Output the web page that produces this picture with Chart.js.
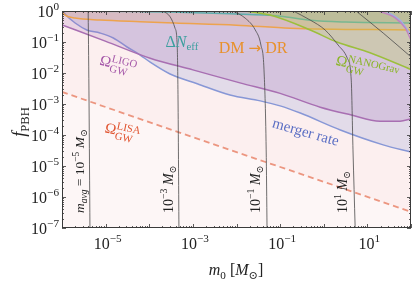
<!DOCTYPE html>
<html><head><meta charset="utf-8">
<script src="https://cdn.jsdelivr.net/npm/chart.js@4.4.1/dist/chart.umd.min.js"></script>
<style>html,body{margin:0;padding:0;background:#fff}</style>
</head><body>
<canvas id="c" width="415" height="283"></canvas>
<script>
// ---- data (mass m0 in Msun, f_PBH) ----
const massLIGO = [1e-6, 9.8e-6, 1.05e-4, 1e-3, 1.2e-2, 0.1, 0.83, 4.1, 19.5, 56, 100];
const fLIGO    = [0.355, 0.107, 0.030, 0.0126, 4.8e-3, 2.2e-3, 7.9e-4, 4.5e-4, 2.8e-4, 2.8e-4, 3.3e-4];
const massLIGOup = [17.8, 44, 74, 100];
const fLIGOup    = [1.0, 0.59, 0.28, 0.115];
const massMerger = [1.05e-6, 1.23e-6, 2.0e-6, 3.7e-6, 7.4e-6, 1.5e-5, 3.1e-5, 6.2e-5, 1.05e-4, 3.0e-4, 1.26e-3, 7.1e-3, 3.5e-2, 0.1, 0.29, 2.4, 23, 100];
const fMerger    = [1.0, 0.74, 0.41, 0.245, 0.195, 0.135, 0.069, 0.038, 0.0224, 9.3e-3, 4.5e-3, 1.95e-3, 1.26e-3, 8.7e-4, 5.1e-4, 1.45e-4, 4.8e-5, 2.8e-5];
const massMergerUp = [26, 56, 100];
const fMergerUp    = [1.0, 0.51, 0.17];
const massDMDR = [1e-6, 1.17e-6, 2e-6, 7.4e-6, 6.2e-5, 3.9e-4, 1.0e-2, 0.17, 100];
const fDMDR    = [0.95, 0.74, 0.59, 0.51, 0.45, 0.41, 0.35, 0.28, 0.245];
const massNeff = [1e-6, 6.3e-5, 3e-4, 7.1e-3, 0.1, 0.5, 3.2, 100];
const fNeff    = [0.98, 0.955, 0.93, 0.81, 0.68, 0.50, 0.44, 0.41];
const massNANO = [1.6e-2, 5.9e-2, 0.49, 2.0, 11.5, 100];
const fNANO    = [1.0, 0.74, 0.245, 0.1, 0.045, 0.013];
const massLISA = [1e-6, 1e-4, 1e-2, 1, 100];
const fLISA    = [2.45e-3, 2.6e-4, 2.8e-5, 3.1e-6, 3.3e-7];
// m_avg contour lines
const massC1 = [3.98e-6, 4.17e-6, 4.37e-6];            const fC1 = [1, 1e-3, 1e-7];
const massC2 = [2.09e-4, 3.02e-4, 3.89e-4, 4.37e-4, 4.57e-4, 4.79e-4]; const fC2 = [1, 0.646, 0.282, 0.0794, 1.35e-3, 1e-7];
const massC3 = [8.3e-3, 1.58e-2, 2.69e-2, 3.63e-2, 4.27e-2, 4.79e-2, 5.01e-2]; const fC3 = [1, 0.59, 0.245, 0.0794, 0.0126, 3.3e-5, 1e-7];
const massC4 = [0.2, 0.49, 1.07, 2.14, 3.47, 4.27, 4.68, 5.25]; const fC4 = [1, 0.51, 0.245, 0.0794, 0.030, 5.9e-3, 3.3e-5, 1e-7];
const massC5 = [5.5, 23, 100]; const fC5 = [1, 0.195, 0.033];
// ticks
const xMajorExps = [-6, -5, -4, -3, -2, -1, 0, 1, 2];
const xLabelExps = [-5, -3, -1, 1];
const yLabelExps = [0, -1, -2, -3, -4, -5, -6, -7];

const SERIF = '"Liberation Serif", "DejaVu Serif", serif';
const pts = (ms, fs) => ms.map((m, i) => ({x: m, y: fs[i]}));

function area(ms, fs, line, fillC, order, w, dash) {
  return {data: pts(ms, fs), borderColor: line, backgroundColor: fillC, fill: fillC ? 'end' : false,
    borderWidth: w || 1.5, borderDash: dash || [], pointRadius: 0, cubicInterpolationMode: 'monotone', order: order};
}
function contour(ms, fs) {
  return {data: pts(ms, fs), borderColor: '#4a4a4a', borderWidth: 0.8, fill: false, pointRadius: 0,
    cubicInterpolationMode: 'monotone', order: 1};
}

function drawRich(ctx, segs, x, y, o) {
  const S = o.size;
  const font = (sz, it, fam) => (it ? 'italic ' : '') + sz + 'px ' + (fam || o.family || SERIF);
  const items = []; let w = 0;
  for (const s of segs) {
    if (s.stack) {
      const ss = S * (s.scale || 0.7);
      ctx.font = font(ss, s.it, s.fam);
      const w1 = ctx.measureText(s.sup).width, w2 = ctx.measureText(s.sub).width;
      items.push(Object.assign({}, s, {x: w, ss: ss})); w += Math.max(w1, w2) + 1;
    } else {
      const sz = s.p ? S * (s.scale || 0.7) : S * (s.scale || 1);
      ctx.font = font(sz, s.it, s.fam);
      const mw = ctx.measureText(s.t).width;
      items.push(Object.assign({}, s, {x: w, sz: sz})); w += mw + (s.gap || 0);
    }
  }
  ctx.save(); ctx.translate(x, y); ctx.rotate((o.angle || 0) * Math.PI / 180);
  const x0 = o.align === 'left' ? 0 : o.align === 'right' ? -w : -w / 2;
  ctx.fillStyle = o.color; ctx.textBaseline = 'alphabetic'; ctx.textAlign = 'left';
  const by = o.by != null ? o.by : S * 0.35;
  for (const it of items) {
    if (it.stack) {
      ctx.font = font(it.ss, it.it, it.fam);
      ctx.fillText(it.sup, x0 + it.x, by - S * 0.38);
      ctx.fillText(it.sub, x0 + it.x, by + S * 0.3);
    } else {
      ctx.font = font(it.sz, it.it, it.fam);
      const dy = it.p === 'sup' ? -S * 0.42 : it.p === 'sub' ? S * 0.22 : (it.dy || 0);
      ctx.fillText(it.t, x0 + it.x, by + dy);
    }
  }
  ctx.restore();
}

const bgPlugin = {
  id: 'bg',
  beforeDatasetsDraw(chart) {
    const {ctx, chartArea: a} = chart;
    ctx.save(); ctx.fillStyle = '#fdf6f6'; ctx.fillRect(a.left, a.top, a.right - a.left, a.bottom - a.top); ctx.restore();
  }
};

const decoPlugin = {
  id: 'deco',
  afterDatasetsDraw(chart) {
    const {ctx} = chart;
    const xs = chart.scales.x, ys = chart.scales.y;
    const X = v => xs.getPixelForValue(v), Y = v => ys.getPixelForValue(v);
    // in-plot annotations
    drawRich(ctx, [{t: 'Δ'}, {t: 'N', it: true}, {t: 'eff', p: 'sub', scale: 0.68}], X(5.6e-4), Y(0.108), {size: 16, color: '#3d9f9f'});
    drawRich(ctx, [{t: 'DM '}, {t: '→', fam: '"DejaVu Sans", sans-serif', scale: 0.95, dy: 0.5}, {t: ' DR'}], X(2.4e-2), Y(0.069), {size: 16, color: '#e8912c'});
    drawRich(ctx, [{t: 'Ω'}, {stack: true, sup: 'LIGO', sub: 'GW', scale: 0.72}], X(2.0e-5), Y(0.0195), {size: 15, color: '#a456a8', angle: 14});
    drawRich(ctx, [{t: 'Ω'}, {stack: true, sup: 'NANOGrav', sub: 'GW', scale: 0.72}], X(10.4), Y(0.0156), {size: 15, color: '#8ab526', angle: 13});
    drawRich(ctx, [{t: 'Ω'}, {stack: true, sup: 'LISA', sub: 'GW', scale: 0.72}], X(2.5e-5), Y(1.35e-4), {size: 15, color: '#e0532f', angle: 12});
    drawRich(ctx, [{t: 'merger rate'}], X(0.39), Y(1.3e-4), {size: 15, color: '#5b6fc4', angle: 16});
    // contour labels (rotated)
    const bot = Y(3.05e-7);
    drawRich(ctx, [{t: 'm', it: true}, {t: 'avg', it: true, p: 'sub'}, {t: ' = 10'}, {t: '−5', p: 'sup'}, {t: ' '}, {t: 'M', it: true}, {t: '⊙', p: 'sub'}],
      X(2.55e-6), bot, {size: 13.5, color: '#222', angle: -90, align: 'left'});
    drawRich(ctx, [{t: '10'}, {t: '−3', p: 'sup'}, {t: ' '}, {t: 'M', it: true}, {t: '⊙', p: 'sub'}], X(2.7e-4), bot, {size: 14, color: '#222', angle: -90, align: 'left'});
    drawRich(ctx, [{t: '10'}, {t: '−1', p: 'sup'}, {t: ' '}, {t: 'M', it: true}, {t: '⊙', p: 'sub'}], X(2.67e-2), bot, {size: 14, color: '#222', angle: -90, align: 'left'});
    drawRich(ctx, [{t: '10'}, {t: '1', p: 'sup'}, {t: ' '}, {t: 'M', it: true}, {t: '⊙', p: 'sub'}], X(2.64), bot, {size: 14, color: '#222', angle: -90, align: 'left'});
  },
  afterDraw(chart) {
    const {ctx, chartArea: a} = chart;
    const xs = chart.scales.x, ys = chart.scales.y;
    ctx.save();
    ctx.strokeStyle = '#333'; ctx.lineWidth = 0.8;
    ctx.beginPath();
    for (const e of xMajorExps) {
      for (let k = 1; k <= 9; k++) {
        const v = k * Math.pow(10, e); if (v > 100 * 1.0001) break;
        const p = Math.round(xs.getPixelForValue(v)) + 0.5; const L = k === 1 ? 4 : 2;
        ctx.moveTo(p, a.bottom); ctx.lineTo(p, a.bottom - L);
        ctx.moveTo(p, a.top); ctx.lineTo(p, a.top + L);
      }
    }
    for (let e = -7; e <= 0; e++) {
      for (let k = 1; k <= 9; k++) {
        const v = k * Math.pow(10, e); if (v > 1.0001) break;
        const p = Math.round(ys.getPixelForValue(v)) + 0.5; const L = k === 1 ? 4 : 2;
        ctx.moveTo(a.left, p); ctx.lineTo(a.left + L, p);
        ctx.moveTo(a.right, p); ctx.lineTo(a.right - L, p);
      }
    }
    ctx.stroke();
    ctx.strokeStyle = '#3a3a3a'; ctx.lineWidth = 1;
    ctx.strokeRect(a.left + 0.5, a.top + 0.5, a.right - a.left - 1, a.bottom - a.top - 1);
    ctx.restore();
    // tick labels
    for (const e of yLabelExps) {
      const p = ys.getPixelForValue(Math.pow(10, e));
      drawRich(ctx, [{t: '10'}, {t: e === 0 ? '0' : '−' + (-e), p: 'sup', scale: 0.7}], 59, p, {size: 16, color: '#222', align: 'right', by: 5.5});
    }
    for (const e of xLabelExps) {
      const p = xs.getPixelForValue(Math.pow(10, e));
      drawRich(ctx, [{t: '10'}, {t: e < 0 ? '−' + (-e) : String(e), p: 'sup', scale: 0.7}], p + 2, 249, {size: 16, color: '#222', by: 0});
    }
    // axis titles
    drawRich(ctx, [{t: 'f', it: true}, {t: 'PBH', p: 'sub', scale: 0.7}], 19, 122, {size: 18, color: '#222', angle: -90});
    drawRich(ctx, [{t: 'm', it: true}, {t: '0', p: 'sub'}, {t: ' ['}, {t: 'M', it: true}, {t: '⊙', p: 'sub'}, {t: ']'}], 236, 275, {size: 16, color: '#222', by: 0});
  }
};

new Chart(document.getElementById('c'), {
  type: 'line',
  data: {
    datasets: [
      area(massLISA, fLISA, 'rgba(236,150,128,1)', 'rgba(240,160,150,0.07)', 10, 1.8, [6, 4]),
      area(massMerger, fMerger, '#8797d6', 'rgba(135,148,212,0.22)', 9),
      area(massLIGO, fLIGO, '#a86fb2', 'rgba(165,105,180,0.2)', 8),
      area(massDMDR, fDMDR, '#eda34e', 'rgba(230,150,70,0.18)', 7),
      area(massNeff, fNeff, '#5fadad', 'rgba(80,160,160,0.18)', 6),
      area(massNANO, fNANO, '#9cbf3c', 'rgba(185,210,70,0.28)', 5),
      area(massLIGOup, fLIGOup, '#c080c4', null, 4, 1.3),
      area(massMergerUp, fMergerUp, '#9db0e6', null, 4, 1.3),
      contour(massC1, fC1), contour(massC2, fC2), contour(massC3, fC3), contour(massC4, fC4), contour(massC5, fC5)
    ]
  },
  options: {
    responsive: false, animation: false, devicePixelRatio: 1,
    layout: {padding: {top: 11, right: 4, left: 0, bottom: 0}},
    plugins: {legend: {display: false}, tooltip: {enabled: false}},
    scales: {
      x: {type: 'logarithmic', min: 1e-6, max: 1e2, grid: {display: false}, border: {display: false},
          ticks: {display: false}, afterFit(s) { s.height = 55; }},
      y: {type: 'logarithmic', min: 1e-7, max: 1, grid: {display: false}, border: {display: false},
          ticks: {display: false}, afterFit(s) { s.width = 62; }}
    }
  },
  plugins: [bgPlugin, decoPlugin]
});
</script>
</body></html>
